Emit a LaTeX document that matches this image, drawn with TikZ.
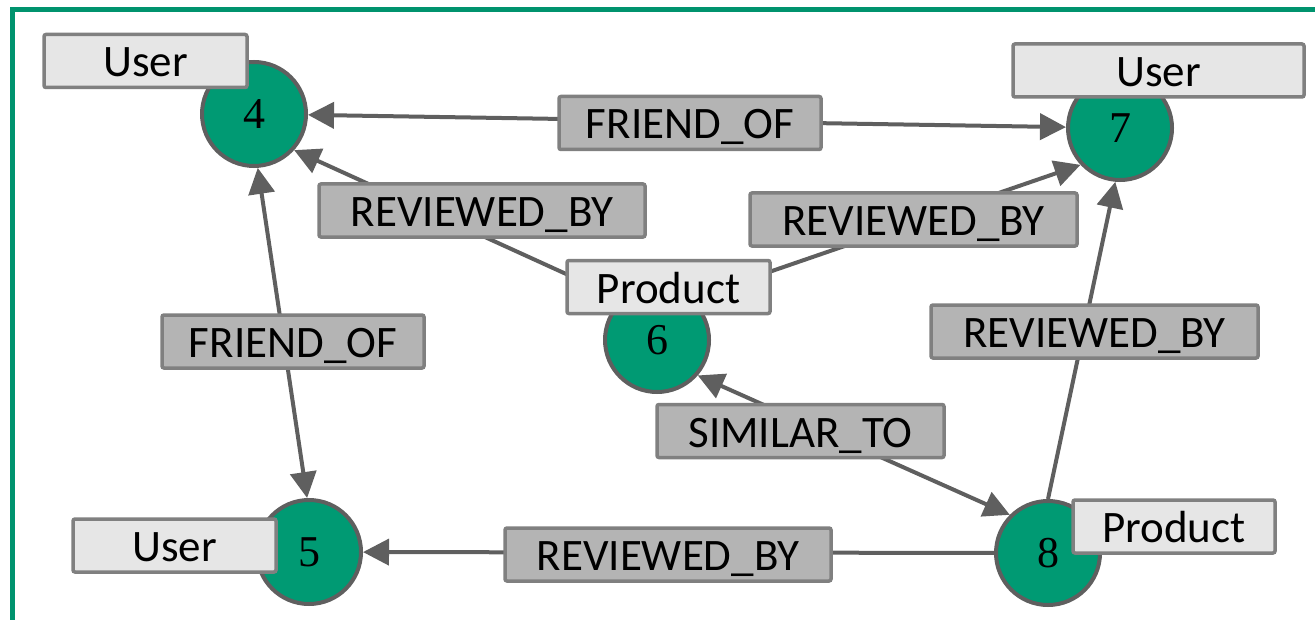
\documentclass[tikz,border=0pt]{standalone}
\usepackage{fontspec}
\setmainfont{Carlito}
\newfontfamily\numfont{Liberation Serif}
\usetikzlibrary{arrows.meta}
\definecolor{nodegreen}{HTML}{009A73}
\definecolor{framegreen}{HTML}{00936E}
\definecolor{edgegrey}{HTML}{5F5F5F}
\definecolor{boxborder}{HTML}{808080}
\definecolor{lightbox}{HTML}{E6E6E6}
\definecolor{darkbox}{HTML}{B4B4B4}
\tikzset{
  gnode/.style={circle, draw=edgegrey, line width=2pt, fill=nodegreen, minimum size=52pt, inner sep=0pt, font=\numfont\fontsize{22pt}{24pt}\selectfont},
  typelabel/.style={rectangle, draw=boxborder, line width=1.75pt, fill=lightbox, rounded corners=1pt, inner sep=0pt, minimum height=26.5pt, text height=16pt, text depth=0pt, font=\fontsize{22.5pt}{25pt}\selectfont},
  rellabel/.style={rectangle, draw=boxborder, line width=1.75pt, fill=darkbox, rounded corners=1pt, inner sep=0pt, minimum height=26.5pt, text height=16pt, text depth=0pt, font=\fontsize{22.5pt}{25pt}\selectfont},
  rel/.style={draw=edgegrey, line width=2pt, -{Triangle[length=13pt,width=13pt]}},
  birel/.style={draw=edgegrey, line width=2pt, {Triangle[length=13pt,width=13pt]}-{Triangle[length=13pt,width=13pt]}}
}
\begin{document}
\begin{tikzpicture}[x=0.5pt, y=-0.5pt]
\useasboundingbox (0,0) rectangle (1315,620);
% frame
\draw[framegreen, line width=2.5pt] (12.5,640) -- (12.5,9.5) -- (1330,9.5);
% nodes
\node[gnode] (n4) at (254,114) {4};
\node[gnode] (n7) at (1120,128) {7};
\node[gnode] (n6) at (657,340) {6};
\node[gnode] (n8) at (1048,553) {8};
\node[gnode] (n5) at (309,552) {5};
% edges
\draw[birel] (n4) -- (n7);
\draw[rel] (n6.131) -- (n4.-42);
\draw[rel] (n6.50) -- (n7.223);
\draw[rel] (n8.90) -- (n7.-95);
\draw[birel] (n6.-41) -- (n8.135);
\draw[birel] (n4.-86) -- (n5.92);
\draw[rel] (n8) -- (n5);
% relation labels
\node[rellabel, minimum width=131pt] (l47) at (690,123) {FRIEND\_OF};
\node[rellabel, minimum width=163pt] (l64) at (482,210.5) {REVIEWED\_BY};
\node[rellabel, minimum width=163.5pt] (l67) at (913.5,219.5) {REVIEWED\_BY};
\node[rellabel, minimum width=163.5pt] (l87) at (1094.5,331.5) {REVIEWED\_BY};
\node[rellabel, minimum width=143.5pt] (l68) at (800.5,431) {SIMILAR\_TO};
\node[rellabel, minimum width=163pt] (l85) at (668,554.5) {REVIEWED\_BY};
\node[rellabel, minimum width=131pt] (l45) at (293,341.5) {FRIEND\_OF};
% type labels
\node[typelabel, minimum width=101.5pt] (t4) at (145.5,61) {User};
\node[typelabel, minimum width=145.5pt] (t7) at (1158.5,70.5) {User};
\node[typelabel, minimum width=101.5pt] (t6) at (668.5,287) {Product};
\node[typelabel, minimum width=101pt] (t8) at (1174,526.5) {Product};
\node[typelabel, minimum width=101.5pt] (t5) at (174.5,545.5) {User};
\end{tikzpicture}
\end{document}
